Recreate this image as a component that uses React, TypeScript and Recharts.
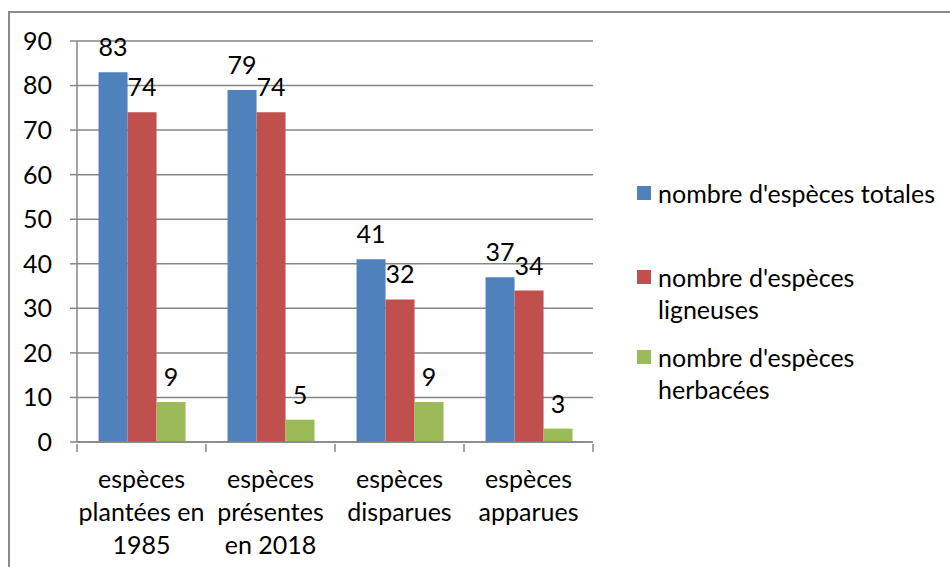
import { Bar, BarChart, CartesianGrid, LabelList, XAxis, YAxis } from "recharts";

const categories = [
  "espèces\nplantées en\n1985",
  "espèces\nprésentes\nen 2018",
  "espèces\ndisparues",
  "espèces\napparues",
];
const totales = [83, 79, 41, 37];
const ligneuses = [74, 74, 32, 34];
const herbacees = [9, 5, 9, 3];
const yTicks = [0, 10, 20, 30, 40, 50, 60, 70, 80, 90];

const series = [
  { key: "totales", name: "nombre d'espèces totales", color: "#4f81bd" },
  { key: "ligneuses", name: "nombre d'espèces\nligneuses", color: "#c0504d" },
  { key: "herbacees", name: "nombre d'espèces\nherbacées", color: "#9bbb59" },
];

const data = categories.map((c, i) => ({
  cat: c,
  totales: totales[i],
  ligneuses: ligneuses[i],
  herbacees: herbacees[i],
}));

const FONT = "Lato, Carlito, 'Liberation Sans', sans-serif";
const FS = 25;
const GRID = "#868686";
const BAND = 129;

function CatTick(props: any) {
  const { x, y, payload, index } = props;
  const lines = String(payload.value).split("\n");
  return (
    <g>
      <line x1={x - BAND / 2} x2={x - BAND / 2} y1={y} y2={y + 8} stroke={GRID} strokeWidth={1.5} />
      {index === categories.length - 1 && (
        <line x1={x + BAND / 2} x2={x + BAND / 2} y1={y} y2={y + 8} stroke={GRID} strokeWidth={1.5} />
      )}
      <text x={x} y={y} textAnchor="middle" fontSize={FS} fill="#000" fontFamily={FONT}>
        {lines.map((l, i) => (
          <tspan key={i} x={x} dy={i === 0 ? 44 : 33}>
            {l}
          </tspan>
        ))}
      </text>
    </g>
  );
}

const legendTops = [177, 261, 341];

function LegendBox() {
  return (
    <div style={{ position: "absolute", left: 637, top: 177, width: 313, fontFamily: FONT, fontSize: FS, color: "#000" }}>
      {series.map((s, i) => (
        <div key={s.key} style={{ position: "absolute", left: 0, top: legendTops[i] - 177, display: "flex", lineHeight: "32px" }}>
          <div style={{ width: 14, height: 14, background: s.color, marginTop: 9, marginRight: 7, flex: "none" }} />
          <div style={{ whiteSpace: "pre" }}>{s.name}</div>
        </div>
      ))}
    </div>
  );
}

export default function App() {
  return (
    <div style={{ position: "absolute", left: 0, top: 0, width: 950, height: 567, background: "#fff", overflow: "hidden" }}>
      <div
        style={{
          position: "absolute",
          left: 8,
          top: 11,
          width: 960,
          height: 580,
          borderLeft: "2px solid #8a8a8a",
          borderTop: "2px solid #8a8a8a",
          boxSizing: "border-box",
        }}
      />
      <BarChart
        width={950}
        height={567}
        data={data}
        margin={{ top: 41, right: 357, bottom: 0, left: 0 }}
        barCategoryGap="16.7%"
        barGap={0}
        style={{ position: "absolute", left: 0, top: 0 }}
      >
        <CartesianGrid vertical={false} stroke={GRID} strokeWidth={1.5} />
        <YAxis
          width={77}
          domain={[0, 90]}
          ticks={yTicks}
          interval={0}
          tickSize={7}
          tickMargin={18}
          tickLine={{ stroke: GRID, strokeWidth: 1.5 }}
          axisLine={{ stroke: GRID, strokeWidth: 1.5 }}
          tick={{ fontSize: FS, fill: "#000", fontFamily: FONT }}
        />
        <XAxis
          dataKey="cat"
          interval={0}
          tickLine={false}
          tickSize={0}
          axisLine={{ stroke: GRID, strokeWidth: 1.5 }}
          tick={<CatTick />}
          height={125}
        />
        {series.map((s) => (
          <Bar key={s.key} dataKey={s.key} name={s.name} fill={s.color} isAnimationActive={false}>
            <LabelList
              dataKey={s.key}
              position="top"
              offset={16}
              style={{ fontSize: FS, fill: "#000", fontFamily: FONT }}
            />
          </Bar>
        ))}
      </BarChart>
      <LegendBox />
    </div>
  );
}
